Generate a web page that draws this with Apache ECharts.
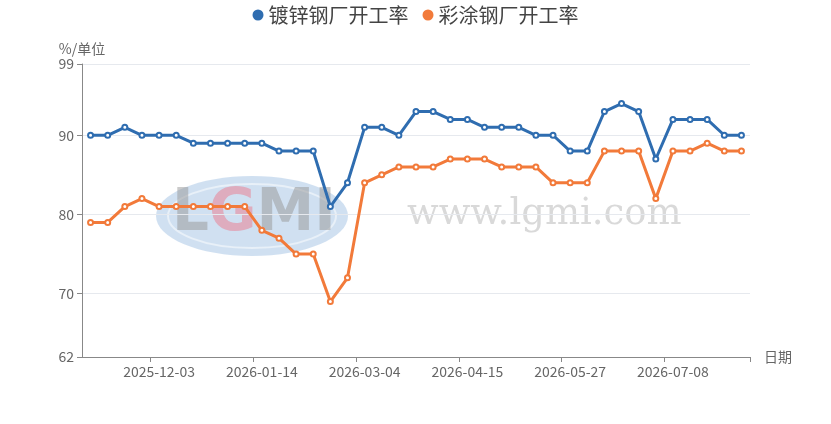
<!DOCTYPE html>
<html>
<head>
<meta charset="utf-8">
<script src="https://cdn.jsdelivr.net/npm/echarts@6/dist/echarts.min.js"></script>
<style>
  html, body { margin: 0; padding: 0; background: #fff; }
  #main { width: 831px; height: 424px; }
</style>
</head>
<body>
<div id="main"></div>
<script>
// 周度日期（春节周缺一期）
const dates = [
  '2025-11-05', '2025-11-12', '2025-11-19', '2025-11-26', '2025-12-03', '2025-12-10',
  '2025-12-17', '2025-12-24', '2025-12-31', '2026-01-07', '2026-01-14', '2026-01-21',
  '2026-01-28', '2026-02-04', '2026-02-11', '2026-02-25', '2026-03-04', '2026-03-11',
  '2026-03-18', '2026-03-25', '2026-04-01', '2026-04-08', '2026-04-15', '2026-04-22',
  '2026-04-29', '2026-05-06', '2026-05-13', '2026-05-20', '2026-05-27', '2026-06-03',
  '2026-06-10', '2026-06-17', '2026-06-24', '2026-07-01', '2026-07-08', '2026-07-15',
  '2026-07-22', '2026-07-29', '2026-08-05'
]
// 镀锌钢厂开工率
const galvanized = [
  90, 90, 91, 90, 90, 90, 89, 89, 89, 89, 89, 88, 88, 88, 81, 84, 91, 91, 90, 93,
  93, 92, 92, 91, 91, 91, 90, 90, 88, 88, 93, 94, 93, 87, 92, 92, 92, 90, 90
]
// 彩涂钢厂开工率
const coated = [
  79, 79, 81, 82, 81, 81, 81, 81, 81, 81, 78, 77, 75, 75, 69, 72, 84, 85, 86, 86,
  86, 87, 87, 87, 86, 86, 86, 84, 84, 84, 88, 88, 88, 82, 88, 88, 89, 88, 88
]

let myChart = echarts.init(document.getElementById('main'))
// 每 6 期显示一个标签，从 2025-12-03 开始
let labelEvery = function (idx) {
  return idx % 6 === 4
}
let font = '"Noto Sans CJK SC", "Noto Sans", sans-serif'
let option = {
  animation: false,
  color: ['#2f6db0', '#f27a3a'],
  textStyle: { fontFamily: font },
  legend: {
    top: 0,
    left: 'center',
    icon: 'circle',
    itemWidth: 11,
    itemHeight: 11,
    itemGap: 14,
    textStyle: { fontSize: 20, color: '#444', fontFamily: font }
  },
  grid: {
    left: 82,
    right: 81,
    top: 64,
    bottom: 67
  },
  // 水印
  graphic: [
    {
      type: 'ellipse',
      shape: { cx: 252, cy: 216, rx: 96, ry: 40 },
      style: { fill: 'rgba(120,165,215,0.35)' },
      z: 0
    },
    {
      type: 'ellipse',
      shape: { cx: 252, cy: 216, rx: 84, ry: 32 },
      style: { fill: 'none', stroke: 'rgba(255,255,255,0.5)', lineWidth: 2 },
      z: 0
    },
    {
      type: 'text',
      left: 172,
      top: 186,
      style: {
        text: 'L{g|G}MI',
        font: 'bold 58px "DejaVu Sans"',
        fill: 'rgba(150,150,150,0.5)',
        rich: {
          g: { font: 'bold 58px "DejaVu Sans"', fill: 'rgba(235,120,140,0.5)' }
        }
      },
      z: 0
    },
    {
      type: 'text',
      left: 407,
      top: 196,
      style: {
        text: 'www.lgmi.com',
        font: '37px "DejaVu Serif"',
        fill: 'rgba(170,170,170,0.45)'
      },
      z: 0
    }
  ],
  xAxis: {
    type: 'category',
    data: dates,
    name: '日期',
    nameGap: 14,
    nameTextStyle: { color: '#666', fontSize: 14 },
    axisLine: { lineStyle: { color: '#888' } },
    axisTick: { show: true, length: 5, interval: labelEvery, lineStyle: { color: '#888' } },
    axisLabel: { interval: labelEvery, color: '#666', fontSize: 14, margin: 8 }
  },
  yAxis: {
    type: 'value',
    min: 62,
    max: 99,
    name: '%/单位',
    nameGap: 8,
    nameTextStyle: { color: '#666', fontSize: 14, align: 'center' },
    axisLine: { show: true, lineStyle: { color: '#888' } },
    axisTick: { show: true, lineStyle: { color: '#888' } },
    axisLabel: { color: '#666', fontSize: 14 },
    splitLine: { lineStyle: { color: '#e6e9ee' } }
  },
  series: [
    {
      name: '镀锌钢厂开工率',
      type: 'line',
      data: galvanized,
      symbol: 'emptyCircle',
      symbolSize: 5,
      lineStyle: { width: 3 },
      z: 3
    },
    {
      name: '彩涂钢厂开工率',
      type: 'line',
      data: coated,
      symbol: 'emptyCircle',
      symbolSize: 5,
      lineStyle: { width: 3 },
      z: 3
    }
  ]
}
myChart.setOption(option)
</script>
</body>
</html>
